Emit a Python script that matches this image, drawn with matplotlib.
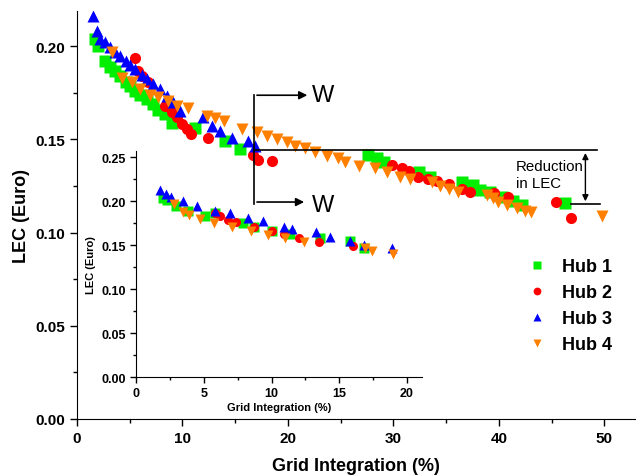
import matplotlib
matplotlib.use("Agg")
import matplotlib.pyplot as plt
from matplotlib.ticker import MultipleLocator

plt.rcParams["font.family"] = ["Liberation Sans", "DejaVu Sans"]

# main plot data
hub1_x = [1.7, 2.0, 2.7, 3.1, 3.6, 4.1, 4.6, 5.0, 5.5, 6.0, 6.6, 7.2, 7.7, 8.3, 9.0, 11.2, 14.0, 15.5,
          27.6, 28.4, 29.1, 32.4, 33.5, 36.5, 37.5, 38.2, 39.2, 40.3, 41.3, 42.2, 46.3]
hub1_y = [0.204, 0.200, 0.192, 0.189, 0.1866, 0.184, 0.181, 0.1786, 0.176, 0.174, 0.1716, 0.169, 0.166,
          0.1635, 0.159, 0.156, 0.149, 0.1448,
          0.1416, 0.140, 0.138, 0.1325, 0.130, 0.127, 0.1255, 0.123, 0.122, 0.119, 0.117, 0.115, 0.116]

hub2_x = [5.5, 5.8, 6.2, 6.7, 8.3, 9.0, 9.5, 10.0, 10.4, 10.8, 12.4, 16.7, 17.2, 18.5,
          29.9, 30.8, 31.5, 32.3, 33.3, 34.1, 35.3, 36.5, 37.3, 39.5, 40.9, 45.4, 46.8]
hub2_y = [0.1935, 0.1866, 0.184, 0.1807, 0.168, 0.1646, 0.162, 0.158, 0.1555, 0.153, 0.1506, 0.1416,
          0.139, 0.1385,
          0.136, 0.1346, 0.133, 0.130, 0.129, 0.1277, 0.126, 0.1233, 0.122, 0.121, 0.119, 0.1164, 0.1078]

hub3_x = [1.5, 1.9, 2.2, 2.7, 3.1, 3.6, 4.1, 4.6, 5.0, 5.5, 6.2, 6.6, 7.2, 7.9, 8.5, 9.1, 9.8,
          11.9, 12.8, 13.6, 14.7, 16.2, 16.9]
hub3_y = [0.216, 0.208, 0.204, 0.202, 0.1995, 0.197, 0.195, 0.192, 0.190, 0.1877, 0.1845, 0.1823,
          0.1796, 0.177, 0.1732, 0.170, 0.165, 0.162, 0.157, 0.1545, 0.151, 0.149, 0.1464]

hub4_x = [3.3, 4.3, 5.2, 6.0, 6.9, 7.7, 8.6, 9.5, 10.5, 12.3, 13.1, 13.9, 15.6, 17.1, 18.0, 19.0, 19.9,
          20.7, 21.6, 22.6, 23.7, 24.7, 25.4, 26.7, 28.3, 29.4, 30.6, 31.6, 33.7, 34.4, 35.3, 36.1,
          38.9, 39.4, 39.9, 40.8, 41.7, 42.5, 43.0, 49.8]
hub4_y = [0.197, 0.183, 0.181, 0.177, 0.174, 0.1726, 0.1705, 0.168, 0.1667, 0.1625, 0.1614, 0.160,
          0.1555, 0.1538, 0.152, 0.150, 0.1485, 0.1464, 0.1453, 0.143, 0.141, 0.140, 0.1378, 0.1357,
          0.1346, 0.1325, 0.130, 0.129, 0.127, 0.125, 0.1233, 0.1217, 0.120, 0.1185, 0.1164, 0.1148,
          0.1131, 0.1115, 0.111, 0.1088]

# inset data
in1_x = [1.97, 2.27, 2.96, 3.86, 5.1, 5.83, 7.92, 8.7, 10.0, 11.4, 13.6, 15.8, 16.8]
in1_y = [0.204, 0.201, 0.1947, 0.189, 0.1833, 0.186, 0.175, 0.171, 0.1663, 0.1625, 0.1576, 0.155, 0.147]
in2_x = [5.83, 6.2, 6.8, 7.4, 8.7, 10.0, 10.9, 12.0, 13.5, 16.0]
in2_y = [0.186, 0.183, 0.179, 0.1758, 0.170, 0.166, 0.1625, 0.1576, 0.153, 0.1485]
in3_x = [1.77, 2.2, 2.56, 3.44, 4.48, 5.83, 6.94, 8.3, 9.35, 10.9, 11.5, 13.3, 14.3, 15.8, 16.8, 18.9]
in3_y = [0.2128, 0.208, 0.205, 0.1996, 0.1947, 0.189, 0.1864, 0.181, 0.1773, 0.171, 0.168, 0.1644,
         0.1587, 0.155, 0.150, 0.1466]
in4_x = [2.8, 3.44, 3.93, 4.72, 5.76, 7.06, 8.45, 9.76, 11.0, 12.4, 16.9, 17.4, 18.95]
in4_y = [0.1966, 0.188, 0.184, 0.1795, 0.175, 0.171, 0.166, 0.1617, 0.1576, 0.153, 0.1462, 0.1435, 0.1398]

labels = ["Hub 1", "Hub 2", "Hub 3", "Hub 4"]
colors = ["#00EE00", "#FF0000", "#0000FF", "#FF8000"]
markers = ["s", "o", "^", "v"]

fig = plt.figure(figsize=(6.41, 4.77), dpi=100)
ax = fig.add_axes([0.1201, 0.1195, 0.8705, 0.855])

main = [(hub1_x, hub1_y), (hub2_x, hub2_y), (hub3_x, hub3_y), (hub4_x, hub4_y)]
for (x, y), c, m, lab in zip(main, colors, markers, labels):
    ax.plot(x, y, ls="none", marker=m, color=c, ms=8, mec="none", label=lab)

ax.set_xlim(0, 52.9)
ax.set_ylim(0, 0.2188)
for s in ["top", "right"]:
    ax.spines[s].set_visible(False)
ax.xaxis.set_major_locator(MultipleLocator(10))
ax.xaxis.set_minor_locator(MultipleLocator(5))
ax.yaxis.set_major_locator(MultipleLocator(0.05))
ax.yaxis.set_minor_locator(MultipleLocator(0.025))
ax.yaxis.set_major_formatter(plt.FormatStrFormatter("%.2f"))
ax.tick_params(which="major", direction="out", length=5, width=1, labelsize=11)
ax.tick_params(which="minor", direction="out", length=3, width=1)
for t in ax.get_xticklabels() + ax.get_yticklabels():
    t.set_fontweight("bold")
ax.set_xlabel("Grid Integration (%)", fontsize=13, fontweight="bold", labelpad=9)
ax.set_ylabel("LEC (Euro)", fontsize=13, fontweight="bold", labelpad=4)

leg = ax.legend(loc="upper left", bbox_to_anchor=(0.776, 0.435), frameon=False,
                prop={"weight": "bold", "size": 13}, handletextpad=0.8, labelspacing=0.5,
                markerscale=0.7, handlelength=1.2)

# annotations
ax.plot([16.8, 49.3], [0.1442, 0.1442], color="k", lw=1.2)
ax.plot([46.8, 49.6], [0.1153, 0.1153], color="k", lw=1.2)
ax.annotate("", xy=(48.2, 0.1442), xytext=(48.2, 0.1153),
            arrowprops=dict(arrowstyle="<|-|>", color="k", lw=1, mutation_scale=9))
ax.text(41.6, 0.1310, "Reduction\nin LEC", fontsize=10.8, ha="left", va="center", linespacing=1.25)
ax.plot([16.8, 16.8], [0.1153, 0.1737], color="k", lw=1.2)
ax.annotate("", xy=(22.1, 0.1737), xytext=(16.8, 0.1737),
            arrowprops=dict(arrowstyle="-|>", color="k", lw=1.2, mutation_scale=12))
ax.annotate("", xy=(21.8, 0.1164), xytext=(16.8, 0.1164),
            arrowprops=dict(arrowstyle="-|>", color="k", lw=1.2, mutation_scale=12))
ax.text(22.3, 0.1740, "W", fontsize=17, ha="left", va="center")
ax.text(22.3, 0.1150, "W", fontsize=17, ha="left", va="center")

# inset
ins = fig.add_axes([0.2122, 0.2075, 0.446, 0.474])
ins.patch.set_alpha(0)
inset = [(in1_x, in1_y), (in2_x, in2_y), (in3_x, in3_y), (in4_x, in4_y)]
for (x, y), c, m in zip(inset, colors, markers):
    ins.plot(x, y, ls="none", marker=m, color=c, ms=6.5, mec="none")
ins.set_xlim(0, 21.1)
ins.set_ylim(0, 0.257)
for s in ["top", "right"]:
    ins.spines[s].set_visible(False)
ins.xaxis.set_major_locator(MultipleLocator(5))
ins.xaxis.set_minor_locator(MultipleLocator(2.5))
ins.yaxis.set_major_locator(MultipleLocator(0.05))
ins.yaxis.set_minor_locator(MultipleLocator(0.025))
ins.yaxis.set_major_formatter(plt.FormatStrFormatter("%.2f"))
ins.tick_params(which="major", direction="out", length=4, width=1, labelsize=9)
ins.tick_params(which="minor", direction="out", length=2, width=1)
for t in ins.get_xticklabels() + ins.get_yticklabels():
    t.set_fontweight("bold")
ins.set_xlabel("Grid Integration (%)", fontsize=8, fontweight="bold", labelpad=2)
ins.set_ylabel("LEC (Euro)", fontsize=8, fontweight="bold", labelpad=4)

fig.savefig("out.png", dpi=100)
